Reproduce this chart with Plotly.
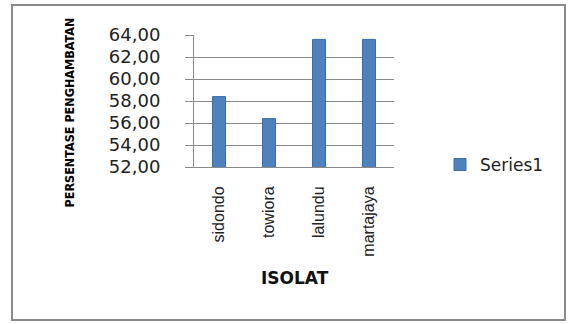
import plotly.graph_objects as go

categories = ["sidondo", "towiora", "lalundu", "martajaya"]
values = [58.4, 56.4, 63.6, 63.6]
series_name = "Series1"
y_ticks = [52, 54, 56, 58, 60, 62, 64]

W, H = 570, 324
L, R, T, B = 194, 176, 35, 157
pw, ph = W - L - R, H - T - B

def px(x):
    return (x - L) / pw

def py(y):
    return (H - B - y) / ph

fig = go.Figure(go.Bar(
    x=categories, y=values, name=series_name,
    marker=dict(color="#4F81BD", line=dict(color="#3C6DA6", width=1)),
    width=0.26, showlegend=True,
))

fig.update_layout(
    width=W, height=H,
    margin=dict(l=L, r=R, t=T, b=B),
    paper_bgcolor="white", plot_bgcolor="white",
    separators=",.",
    showlegend=True,
    legend=dict(x=px(440), y=py(165), xanchor="left", yanchor="middle",
                itemwidth=30,
                font=dict(family="DejaVu Sans", size=17, color="#222"),
                bgcolor="rgba(0,0,0,0)"),
    xaxis=dict(
        tickangle=-90, tickfont=dict(family="Liberation Sans", size=16, color="#222"),
        showline=True, linecolor="#8a8a8a", linewidth=1, showgrid=False,
        ticks="", ticklabelstandoff=12,
    ),
    yaxis=dict(
        range=[52, 64], tickvals=y_ticks, tickformat=".2f",
        tickfont=dict(family="DejaVu Sans", size=18, color="#222"),
        showline=True, linecolor="#8a8a8a", linewidth=1,
        showgrid=True, gridcolor="#8a8a8a", gridwidth=1,
        ticks="outside", ticklen=8, tickcolor="#8a8a8a",
        ticklabelstandoff=21,
        zeroline=False,
    ),
    annotations=[
        dict(text="<b>PERSENTASE PENGHAMBATAN</b>", textangle=-90,
             x=px(60), y=py(113), xref="paper", yref="paper",
             showarrow=False, font=dict(family="DejaVu Sans Condensed, Liberation Sans", size=12.5, color="#000")),
        dict(text="<b>ISOLAT</b>", x=px(295), y=py(290), xref="paper", yref="paper",
             showarrow=False, font=dict(family="DejaVu Sans", size=17, color="#111")),
    ],
    shapes=[
        dict(type="rect", xref="paper", yref="paper",
             x0=px(12), x1=px(565), y0=py(320), y1=py(5),
             line=dict(color="#8a8a8a", width=2), fillcolor="rgba(0,0,0,0)", layer="below"),
    ],
)

fig.write_html("out.html")
